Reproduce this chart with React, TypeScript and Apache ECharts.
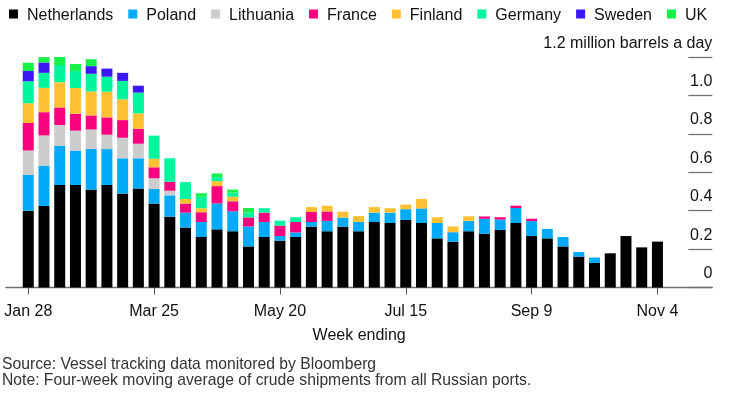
import React, { useEffect, useRef } from "react";
import * as echarts from "echarts";

const weeks = [
  "Jan 28", "Feb 4", "Feb 11", "Feb 18", "Feb 25", "Mar 4", "Mar 11", "Mar 18", "Mar 25",
  "Apr 1", "Apr 8", "Apr 15", "Apr 22", "Apr 29", "May 6", "May 13", "May 20", "May 27",
  "Jun 3", "Jun 10", "Jun 17", "Jun 24", "Jul 1", "Jul 8", "Jul 15", "Jul 22", "Jul 29",
  "Aug 5", "Aug 12", "Aug 19", "Aug 26", "Sep 2", "Sep 9", "Sep 16", "Sep 23", "Sep 30",
  "Oct 7", "Oct 14", "Oct 21", "Oct 28", "Nov 4",
];

const netherlands = [
  0.400, 0.425, 0.534, 0.534, 0.510, 0.534, 0.490, 0.515, 0.437, 0.369,
  0.312, 0.263, 0.303, 0.293, 0.214, 0.263, 0.244, 0.263, 0.317, 0.293,
  0.317, 0.293, 0.341, 0.336, 0.352, 0.336, 0.256, 0.239, 0.293, 0.280,
  0.300, 0.336, 0.268, 0.256, 0.214, 0.161, 0.128, 0.178, 0.268, 0.209,
  0.239,
];
const poland = [
  0.186, 0.210, 0.203, 0.179, 0.212, 0.187, 0.183, 0.158, 0.076, 0.111,
  0.078, 0.078, 0.135, 0.104, 0.104, 0.078, 0.024, 0.024, 0.024, 0.054,
  0.047, 0.049, 0.049, 0.054, 0.056, 0.076, 0.080, 0.049, 0.054, 0.078,
  0.054, 0.078, 0.078, 0.049, 0.049, 0.024, 0.028, 0, 0, 0,
  0,
];
const lithuania = [
  0.127, 0.157, 0.109, 0.104, 0.101, 0.075, 0.107, 0.076, 0.056, 0.024,
  0, 0, 0, 0, 0, 0, 0, 0, 0, 0,
  0, 0, 0, 0, 0, 0, 0, 0, 0, 0,
  0, 0, 0, 0, 0, 0, 0, 0, 0, 0,
  0,
];
const france = [
  0.144, 0.121, 0.091, 0.088, 0.073, 0.090, 0.092, 0.078, 0.057, 0.047,
  0.047, 0.051, 0.090, 0.052, 0.047, 0.049, 0.054, 0.054, 0.052, 0.049,
  0, 0, 0, 0, 0, 0, 0, 0, 0, 0.012,
  0.012, 0.012, 0.012, 0, 0, 0, 0, 0, 0, 0,
  0,
];
const finland = [
  0.102, 0.127, 0.132, 0.134, 0.125, 0.134, 0.108, 0.080, 0.045, 0,
  0.024, 0.021, 0.026, 0.024, 0, 0, 0, 0, 0.026, 0.030,
  0.031, 0.030, 0.029, 0.023, 0.024, 0.049, 0.030, 0.030, 0.024, 0,
  0, 0, 0, 0, 0, 0, 0, 0, 0, 0,
  0,
];
const germany = [
  0.115, 0.078, 0.090, 0.089, 0.092, 0.078, 0.096, 0.108, 0.120, 0.122,
  0.088, 0.059, 0.021, 0.021, 0.026, 0.023, 0.026, 0.025, 0, 0,
  0, 0, 0, 0, 0, 0, 0, 0, 0, 0,
  0, 0, 0, 0, 0, 0, 0, 0, 0, 0,
  0,
];
const sweden = [
  0.054, 0.054, 0, 0, 0.040, 0.042, 0.042, 0.036, 0, 0,
  0, 0, 0, 0, 0, 0, 0, 0, 0, 0,
  0, 0, 0, 0, 0, 0, 0, 0, 0, 0,
  0, 0, 0, 0, 0, 0, 0, 0, 0, 0,
  0,
];
const uk = [
  0.043, 0.054, 0.061, 0.036, 0.036, 0, 0, 0, 0, 0,
  0, 0.019, 0.019, 0.016, 0.023, 0, 0, 0, 0, 0,
  0, 0, 0, 0, 0, 0, 0, 0, 0, 0,
  0, 0, 0, 0, 0, 0, 0, 0, 0, 0,
  0,
];

const countries = ["Netherlands", "Poland", "Lithuania", "France", "Finland", "Germany", "Sweden", "UK"];
const countryValues = [netherlands, poland, lithuania, france, finland, germany, sweden, uk];
const countryColors = ["#000000", "#00aaf7", "#cccccc", "#f8007e", "#ffc131", "#00f59c", "#3d16f5", "#18f04a"];

const yMax = 1.2;
const yInterval = 0.2;
const yUnit = "million barrels a day";
const xTitle = "Week ending";
const sourceText = "Source: Vessel tracking data monitored by Bloomberg";
const noteText = "Note: Four-week moving average of crude shipments from all Russian ports.";

const FONT = "'Liberation Sans', Arial, Helvetica, sans-serif";

export default function App() {
  const ref = useRef<HTMLDivElement>(null);

  useEffect(() => {
    if (!ref.current) return;
    const chart = echarts.init(ref.current, null, { renderer: "svg" });
    chart.setOption({
      animation: false,
      textStyle: { fontFamily: FONT },
      legend: {
        left: 4,
        top: 1,
        icon: "rect",
        itemWidth: 9,
        itemHeight: 9,
        itemGap: 15,
        selectedMode: false,
        data: countries,
        textStyle: { fontSize: 16, color: "#111", fontFamily: FONT, padding: [0, 0, 0, 4] },
      },
      grid: [
        { left: 20.4, right: 64.7, top: 57.1, bottom: 105.5, containLabel: false },
        { left: 6, right: 17.7, top: 57.1, bottom: 105.5, containLabel: false },
      ],
      xAxis: [
        {
          type: "category",
          gridIndex: 0,
          data: weeks,
          axisLine: { show: false },
          axisTick: { show: true, alignWithLabel: true, interval: 7, length: 7, lineStyle: { color: "#555", width: 1 } },
          axisLabel: { interval: 7, margin: 15, fontSize: 16, color: "#111", fontFamily: FONT },
          splitLine: { show: false },
        },
        {
          type: "value",
          gridIndex: 1,
          min: 0,
          max: 1,
          axisLine: { show: true, onZero: false, lineStyle: { color: "#707070", width: 1.3 } },
          axisTick: { show: false },
          axisLabel: { show: false },
          splitLine: { show: false },
          name: xTitle,
          nameLocation: "middle",
          nameGap: 39,
          nameTextStyle: { fontSize: 16, color: "#111", fontFamily: FONT },
        },
      ],
      yAxis: [
        {
          type: "value",
          gridIndex: 0,
          min: 0,
          max: yMax,
          interval: yInterval,
          show: false,
          splitLine: { show: false },
        },
        {
          type: "value",
          gridIndex: 1,
          position: "right",
          min: 0,
          max: yMax,
          interval: yInterval,
          axisLine: { show: false, onZero: false },
          splitLine: { show: false },
          axisTick: { show: true, inside: true, length: 24, lineStyle: { color: "#707070", width: 1.3 } },
          axisLabel: {
            inside: true,
            margin: 0,
            align: "right",
            verticalAlign: "bottom",
            padding: [0, 0, 7, 0],
            fontSize: 16,
            color: "#111",
            fontFamily: FONT,
            formatter: (v: number) => {
              if (Math.abs(v) < 1e-9) return "0";
              if (Math.abs(v - yMax) < 1e-9) return `${yMax.toFixed(1)} ${yUnit}`;
              return v.toFixed(1);
            },
          },
        },
      ],
      series: countries.map((name, i) => ({
        name,
        type: "bar",
        stack: "total",
        xAxisIndex: 0,
        yAxisIndex: 0,
        barWidth: 11,
        itemStyle: { color: countryColors[i] },
        emphasis: { disabled: true },
        data: countryValues[i],
      })),
      graphic: [
        {
          type: "text",
          left: 2,
          top: 355,
          style: { text: sourceText, fontSize: 15.7, fill: "#333", fontFamily: FONT },
        },
        {
          type: "text",
          left: 2,
          top: 371,
          style: { text: noteText, fontSize: 15.7, fill: "#333", fontFamily: FONT },
        },
      ],
    });
    return () => chart.dispose();
  }, []);

  return <div ref={ref} style={{ position: "fixed", left: 0, top: 0, width: 730, height: 393 }} />;
}
